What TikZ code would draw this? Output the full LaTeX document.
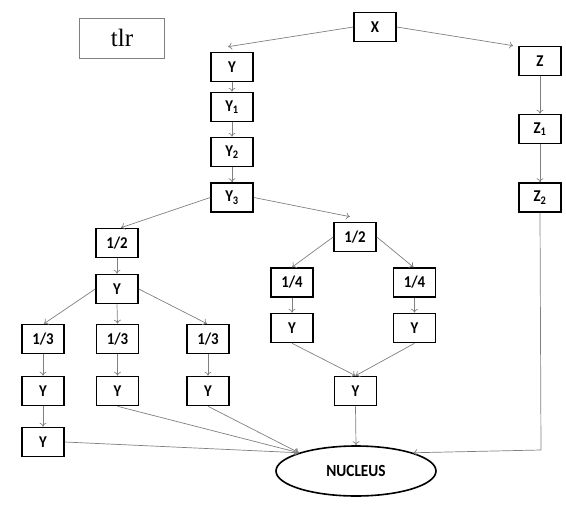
\documentclass[tikz,border=0pt]{standalone}
\usepackage{fontspec}
\setmainfont{Carlito}[FakeStretch=0.9]
\newfontfamily\tlrfont{Liberation Serif}
\usetikzlibrary{arrows.meta,shapes.geometric}
\begin{document}
\begin{tikzpicture}[x=1pt,y=-1pt,
  bx/.style={draw=black,line width=1.6pt,fill=white,minimum width=42pt,minimum height=29pt,inner sep=0pt,font=\bfseries\fontsize{16.5}{18}\selectfont},
  ar/.style={draw=black!50,line width=0.7pt,-{To[length=4pt,width=7pt]}},
  ln/.style={draw=black!50,line width=0.7pt}]
\useasboundingbox (0,0) rectangle (566,512);
\node[draw=black!50,line width=0.8pt,minimum width=85pt,minimum height=40pt,inner sep=0pt,font=\tlrfont\fontsize{25}{27}\selectfont] (tlr) at (122,38) {tlr};
\node[bx] (x) at (375,27) {X};
\node[bx] (y) at (232,67) {Y};
\node[bx] (y1) at (232,107) {Y\textsubscript{1}};
\node[bx] (y2) at (232,152) {Y\textsubscript{2}};
\node[bx] (y3) at (232,197.5) {Y\textsubscript{3}};
\node[bx] (z) at (540,61) {Z};
\node[bx] (z1) at (540,129) {Z\textsubscript{1}};
\node[bx] (z2) at (540,197.5) {Z\textsubscript{2}};
\node[bx] (hl) at (117,243) {1/2};
\node[bx] (hr) at (355,237) {1/2};
\node[bx] (yl) at (117,289) {Y};
\node[bx] (q1) at (292,282.5) {1/4};
\node[bx] (q2) at (414.5,282.5) {1/4};
\node[bx] (yq1) at (292,328) {Y};
\node[bx] (yq2) at (414.5,328) {Y};
\node[bx] (t1) at (43,339) {1/3};
\node[bx] (t2) at (117.5,339) {1/3};
\node[bx] (t3) at (208,339) {1/3};
\node[bx] (yt1) at (43,391) {Y};
\node[bx] (yt2) at (117.5,391) {Y};
\node[bx] (yt3) at (208,391) {Y};
\node[bx] (ym) at (355.5,391) {Y};
\node[bx] (yb) at (43,442) {Y};
\node[draw=black,line width=1.6pt,ellipse,minimum width=160pt,minimum height=50pt,inner sep=0pt,font=\bfseries\fontsize{17}{19}\selectfont] (nuc) at (356,471) {NUCLEUS};
\coordinate (zc) at (541,450);
% connectors
\draw[ar] (x.west) -- ([shift={(-4,-5)}]y.north);
\draw[ar] (x.east) -- ([shift={(-5,0)}]z.north west);
\draw[ar] (y.south) -- (y1.north);
\draw[ar] (y1.south) -- (y2.north);
\draw[ar] (y2.south) -- (y3.north);
\draw[ar] (z.south) -- (z1.north);
\draw[ar] (z1.south) -- (z2.north);
\draw[ar] (y3.west) -- ([shift={(4,0)}]hl.north);
\draw[ar] (y3.east) -- ([shift={(-5,-5)}]hr.north);
\draw[ar] (hl.south) -- (yl.north);
\draw[ar] (yl.west) -- ([shift={(1,0)}]t1.north);
\draw[ar] (yl.south) -- (t2.north);
\draw[ar] (yl.east) -- ([shift={(-1,0)}]t3.north);
\draw[ar] (hr.west) -- (q1.north);
\draw[ar] (hr.east) -- ([shift={(-1,0)}]q2.north);
\draw[ar] (q1.south) -- (yq1.north);
\draw[ar] (q2.south) -- (yq2.north);
\draw[ar] (yq1.south) -- (ym.north);
\draw[ar] (yq2.south) -- (ym.north);
\draw[ar] (t1.south) -- (yt1.north);
\draw[ar] (t2.south) -- (yt2.north);
\draw[ar] (t3.south) -- (yt3.north);
\draw[ar] (yt1.south) -- (yb.north);
\draw[ar] (yb.east) -- (nuc.north west);
\draw[ar] (yt2.south) -- (nuc.north west);
\draw[ar] (yt3.south) -- (nuc.north west);
\draw[ar] (ym.south) -- (nuc.north);
\draw[ar] (z2.south) -- (zc) -- (nuc.north east);
\end{tikzpicture}
\end{document}
